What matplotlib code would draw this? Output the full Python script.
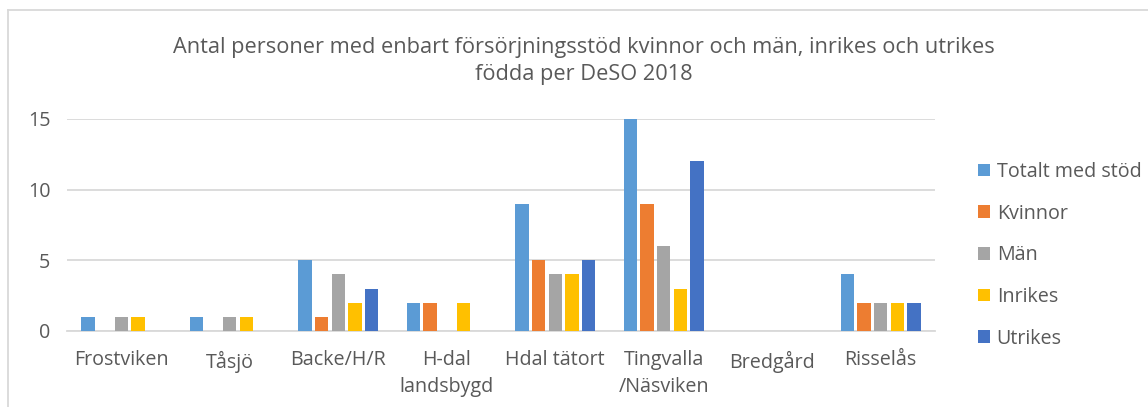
import numpy as np
import matplotlib.pyplot as plt
from matplotlib.lines import Line2D

plt.rcParams['font.family'] = ['Open Sans', 'DejaVu Sans']

# Data
categories = ["Frostviken", "Tåsjö", "Backe/H/R", "H-dal\nlandsbygd", "Hdal tätort",
              "Tingvalla\n/Näsviken", "Bredgård", "Risselås"]
series_names = ["Totalt med stöd", "Kvinnor", "Män", "Inrikes", "Utrikes"]
totalt = [1, 1, 5, 2, 9, 15, 0, 4]
kvinnor = [0, 0, 1, 2, 5, 9, 0, 2]
man = [1, 1, 4, 0, 4, 6, 0, 2]
inrikes = [1, 1, 2, 2, 4, 3, 0, 2]
utrikes = [0, 0, 3, 0, 5, 12, 0, 2]
colors = ["#5b9bd5", "#ed7d31", "#a5a5a5", "#ffc000", "#4472c4"]

W, H = 1148, 407
fig = plt.figure(figsize=(W / 100, H / 100), dpi=100)
ax = fig.add_axes([67 / W, 1 - 331 / H, (935 - 67) / W, (331 - 119) / H])

x = np.arange(len(categories))
step = 0.154
for i, (vals, c, name) in enumerate(zip([totalt, kvinnor, man, inrikes, utrikes], colors, series_names)):
    ax.bar(x + (i - 2) * step, vals, width=step * 0.8, color=c, label=name, zorder=3)

ax.set_xlim(-0.5, len(categories) - 0.5)
ax.set_ylim(0, 15)
ax.set_yticks([0, 5, 10, 15])
ax.grid(axis='y', color='#d9d9d9', linewidth=1.3, zorder=0)
for s in ['top', 'right', 'left']:
    ax.spines[s].set_visible(False)
ax.spines['bottom'].set_color('#d9d9d9')
ax.spines['bottom'].set_linewidth(1.3)
ax.set_xticks(x)
ax.set_xticklabels(categories, linespacing=1.45)
ax.tick_params(axis='both', length=0, colors='#595959', labelsize=14.2)
ax.tick_params(axis='x', pad=14)
ax.tick_params(axis='y', pad=12)

fig.text(584 / W, 1 - 61 / H,
         "Antal personer med enbart försörjningsstöd kvinnor och män, inrikes och utrikes\nfödda per DeSO 2018",
         ha='center', va='center', fontsize=15.7, color='#595959', linespacing=1.32)

leg = ax.legend(loc='upper left', bbox_to_anchor=(970 / W, 1 - 154 / H), bbox_transform=fig.transFigure,
                frameon=False, fontsize=14.2, labelcolor='#595959', handlelength=0.6, handleheight=0.6,
                handletextpad=0.35, labelspacing=1.1, borderaxespad=0)

# chart frame (left and top edges visible)
fig.add_artist(Line2D([7.5 / W, 7.5 / W], [0, 1 - 10 / H], transform=fig.transFigure, color='#d9d9d9', lw=1.3))
fig.add_artist(Line2D([7.5 / W, 1], [1 - 10 / H, 1 - 10 / H], transform=fig.transFigure, color='#d9d9d9', lw=1.3))

fig.savefig("out.png", dpi=100, facecolor='white')
